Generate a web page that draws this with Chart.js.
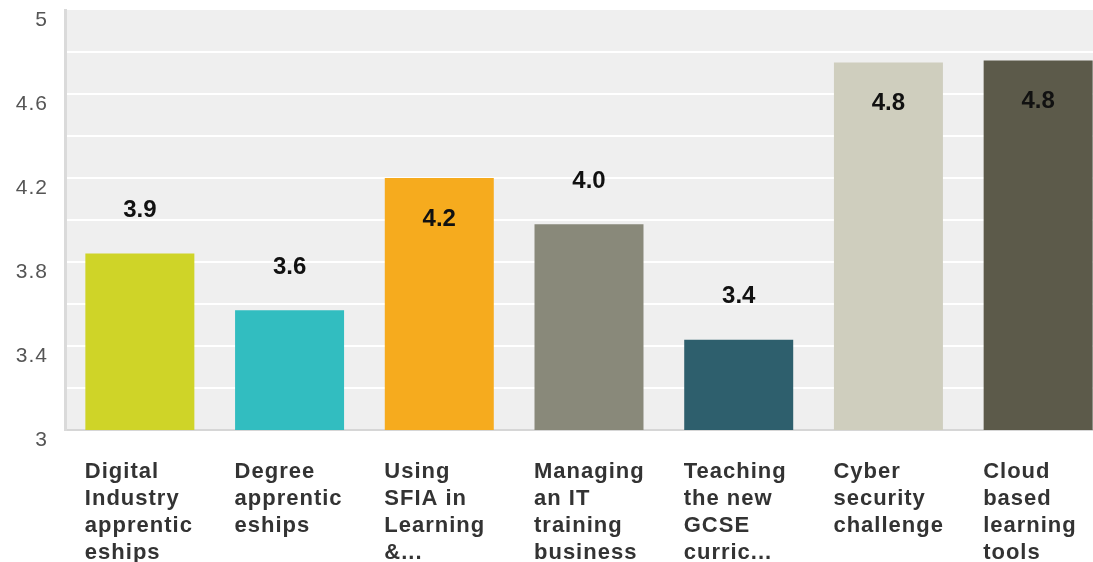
<!DOCTYPE html>
<html lang="en">
<head>
    <meta charset="UTF-8">
    <title>Ratings Chart</title>
    <script src="https://cdn.jsdelivr.net/npm/chart.js"></script>
    <style>
        html, body { margin: 0; padding: 0; background: #fff; overflow: hidden; }
    </style>
</head>
<body>
    <canvas id="ratingChart" width="1113" height="562"></canvas>

    <script>
        // Chart data
        var categories = [
            ['Digital', 'Industry', 'apprentic', 'eships'],
            ['Degree', 'apprentic', 'eships'],
            ['Using', 'SFIA in', 'Learning', '&...'],
            ['Managing', 'an IT', 'training', 'business'],
            ['Teaching', 'the new', 'GCSE', 'curric...'],
            ['Cyber', 'security', 'challenge'],
            ['Cloud', 'based', 'learning', 'tools']
        ];
        var scores = [3.84, 3.57, 4.20, 3.98, 3.43, 4.75, 4.76];
        var scoreLabels = ['3.9', '3.6', '4.2', '4.0', '3.4', '4.8', '4.8'];
        var barColors = ['#cfd428', '#32bdc0', '#f6ab1e', '#89897a', '#2e5f6d', '#cfcebe', '#5c5a4a'];

        // Grey plot background, and a touch of letter spacing for the axis text
        var plotBackground = {
            id: 'plotBackground',
            beforeDraw: function(chart) {
                var a = chart.chartArea;
                var c = chart.ctx;
                c.save();
                c.fillStyle = '#efefef';
                c.fillRect(a.left, a.top, a.right - a.left, a.bottom - a.top);
                c.restore();
                c.letterSpacing = '1px';
            },
            beforeDatasetsDraw: function(chart) {
                chart.ctx.letterSpacing = '0px';
            }
        };

        // Value labels: above short bars, inside tall ones
        var valueLabels = {
            id: 'valueLabels',
            afterDatasetsDraw: function(chart) {
                var c = chart.ctx;
                var meta = chart.getDatasetMeta(0);
                c.save();
                c.font = 'bold 24px "Liberation Sans", Arial, sans-serif';
                c.fillStyle = '#111';
                c.textAlign = 'center';
                c.textBaseline = 'middle';
                meta.data.forEach(function(bar, i) {
                    var y = scores[i] >= 4.1 ? bar.y + 41 : bar.y - 43;
                    c.fillText(scoreLabels[i], bar.x, y);
                });
                c.restore();
            }
        };

        var ctx = document.getElementById('ratingChart').getContext('2d');
        var myChart = new Chart(ctx, {
            type: 'bar',
            data: {
                labels: categories,
                datasets: [{
                    data: scores,
                    backgroundColor: barColors,
                    borderWidth: 0,
                    barPercentage: 0.728,
                    categoryPercentage: 1.0
                }]
            },
            options: {
                responsive: false,
                animation: false,
                layout: { padding: { top: 10, left: 0, right: 0, bottom: 0 } },
                plugins: {
                    legend: { display: false },
                    tooltip: { enabled: false }
                },
                scales: {
                    x: {
                        grid: { display: false, drawTicks: false },
                        border: { display: true, color: '#d6d6d6', width: 2 },
                        ticks: {
                            align: 'start',
                            labelOffset: -55,
                            padding: 28,
                            maxRotation: 0,
                            autoSkip: false,
                            color: '#333',
                            font: { family: '"Liberation Sans", Arial, sans-serif', size: 22, weight: 'bold', lineHeight: 1.23 }
                        },
                        afterFit: function(scale) {
                            scale.height = 132;
                            scale.paddingLeft = 0;
                            scale.paddingRight = 0;
                        }
                    },
                    y: {
                        min: 3,
                        max: 5,
                        grid: {
                            drawTicks: false,
                            lineWidth: 2,
                            color: function(c) {
                                var v = c.tick ? c.tick.value : 0;
                                return (v <= 3.001 || v >= 4.999) ? 'rgba(0,0,0,0)' : '#ffffff';
                            }
                        },
                        border: { display: true, color: '#dadada', width: 3 },
                        ticks: {
                            stepSize: 0.2,
                            padding: 17,
                            labelOffset: 10,
                            color: '#555',
                            font: { family: '"Liberation Sans", Arial, sans-serif', size: 21 },
                            callback: function(value, index) {
                                return index % 2 === 0 ? String(Number(value.toFixed(1))) : '';
                            }
                        },
                        afterFit: function(scale) {
                            scale.width = 65;
                            scale.paddingTop = 0;
                            scale.paddingBottom = 0;
                        }
                    }
                }
            },
            plugins: [plotBackground, valueLabels]
        });
    </script>
</body>
</html>
